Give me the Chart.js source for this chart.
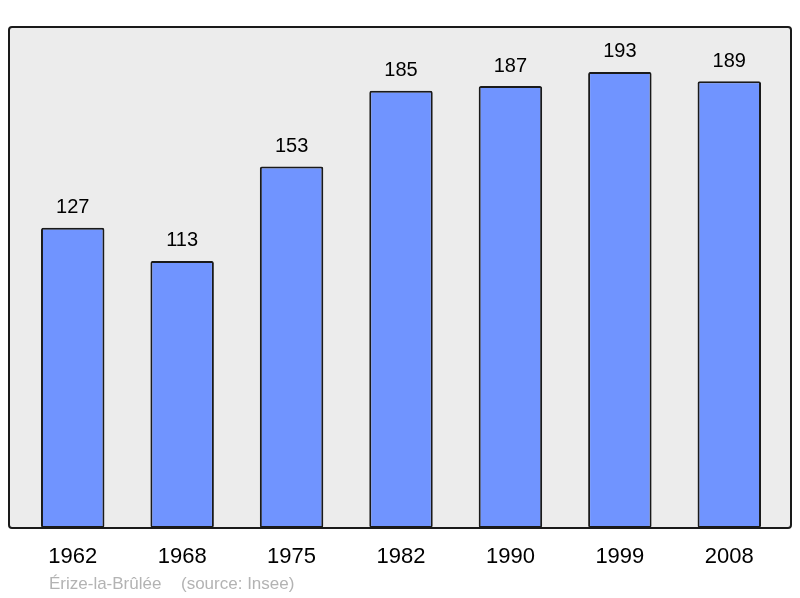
<!DOCTYPE html>
<html>
<head>
<meta charset="utf-8">
<script src="https://cdn.jsdelivr.net/npm/chart.js@4/dist/chart.umd.min.js"></script>
<style>
  html, body { margin: 0; padding: 0; background: #fff; }
  #wrap { width: 800px; height: 598px; }
</style>
</head>
<body>
<div id="wrap"><canvas id="popChart" width="800" height="598"></canvas></div>
<script>
// population by census year
const years = ['1962', '1968', '1975', '1982', '1990', '1999', '2008'];
const population = [127, 113, 153, 185, 187, 193, 189];
const townName = 'Érize-la-Brûlée';
const sourceText = '(source: Insee)';

// grey frame behind the bars, outline drawn after the bars
const framePlugin = {
    id: 'frame',
    beforeDatasetsDraw(chart) {
        const ctx = chart.ctx;
        const a = chart.chartArea;
        ctx.save();
        ctx.fillStyle = '#ececec';
        ctx.beginPath();
        ctx.roundRect(a.left - 9, a.top, a.right - a.left + 16, a.bottom - a.top, 3);
        ctx.fill();
        ctx.restore();
    },
    afterDatasetsDraw(chart) {
        const ctx = chart.ctx;
        const a = chart.chartArea;
        ctx.save();
        ctx.strokeStyle = '#1a1a1a';
        ctx.lineWidth = 2;
        ctx.beginPath();
        ctx.roundRect(a.left - 9, a.top, a.right - a.left + 16, a.bottom - a.top, 3);
        ctx.stroke();

        // value labels above bars
        const meta = chart.getDatasetMeta(0);
        ctx.fillStyle = '#000';
        ctx.font = '20px "Liberation Sans", Arial, sans-serif';
        ctx.textAlign = 'center';
        ctx.textBaseline = 'middle';
        meta.data.forEach(function(bar, i) {
            ctx.fillText(String(population[i]), bar.x, bar.y - 20);
        });

        // year labels under the frame
        const xScale = chart.scales.x;
        ctx.font = '22px "Liberation Sans", Arial, sans-serif';
        years.forEach(function(y, i) {
            ctx.fillText(y, xScale.getPixelForValue(i), a.bottom + 29);
        });

        // footer
        ctx.fillStyle = '#b3b3b3';
        ctx.font = '17px "Liberation Sans", Arial, sans-serif';
        ctx.textAlign = 'left';
        ctx.fillText(townName, 49, a.bottom + 56);
        ctx.fillText(sourceText, 181, a.bottom + 56);
        ctx.restore();
    }
};

const ctx = document.getElementById('popChart').getContext('2d');
new Chart(ctx, {
    type: 'bar',
    data: {
        labels: years,
        datasets: [{
            data: population,
            backgroundColor: '#7094ff',
            borderColor: '#1a1a1a',
            borderWidth: 2,
            borderRadius: 2,
            borderSkipped: false,
            barPercentage: 0.58,
            categoryPercentage: 1
        }]
    },
    options: {
        responsive: false,
        animation: false,
        events: [],
        layout: { padding: { left: 18, right: 16, top: 27, bottom: 70 } },
        plugins: { legend: { display: false }, tooltip: { enabled: false } },
        scales: {
            x: { display: false },
            y: { display: false, min: 0, max: 212 }
        }
    },
    plugins: [framePlugin]
});
</script>
</body>
</html>
